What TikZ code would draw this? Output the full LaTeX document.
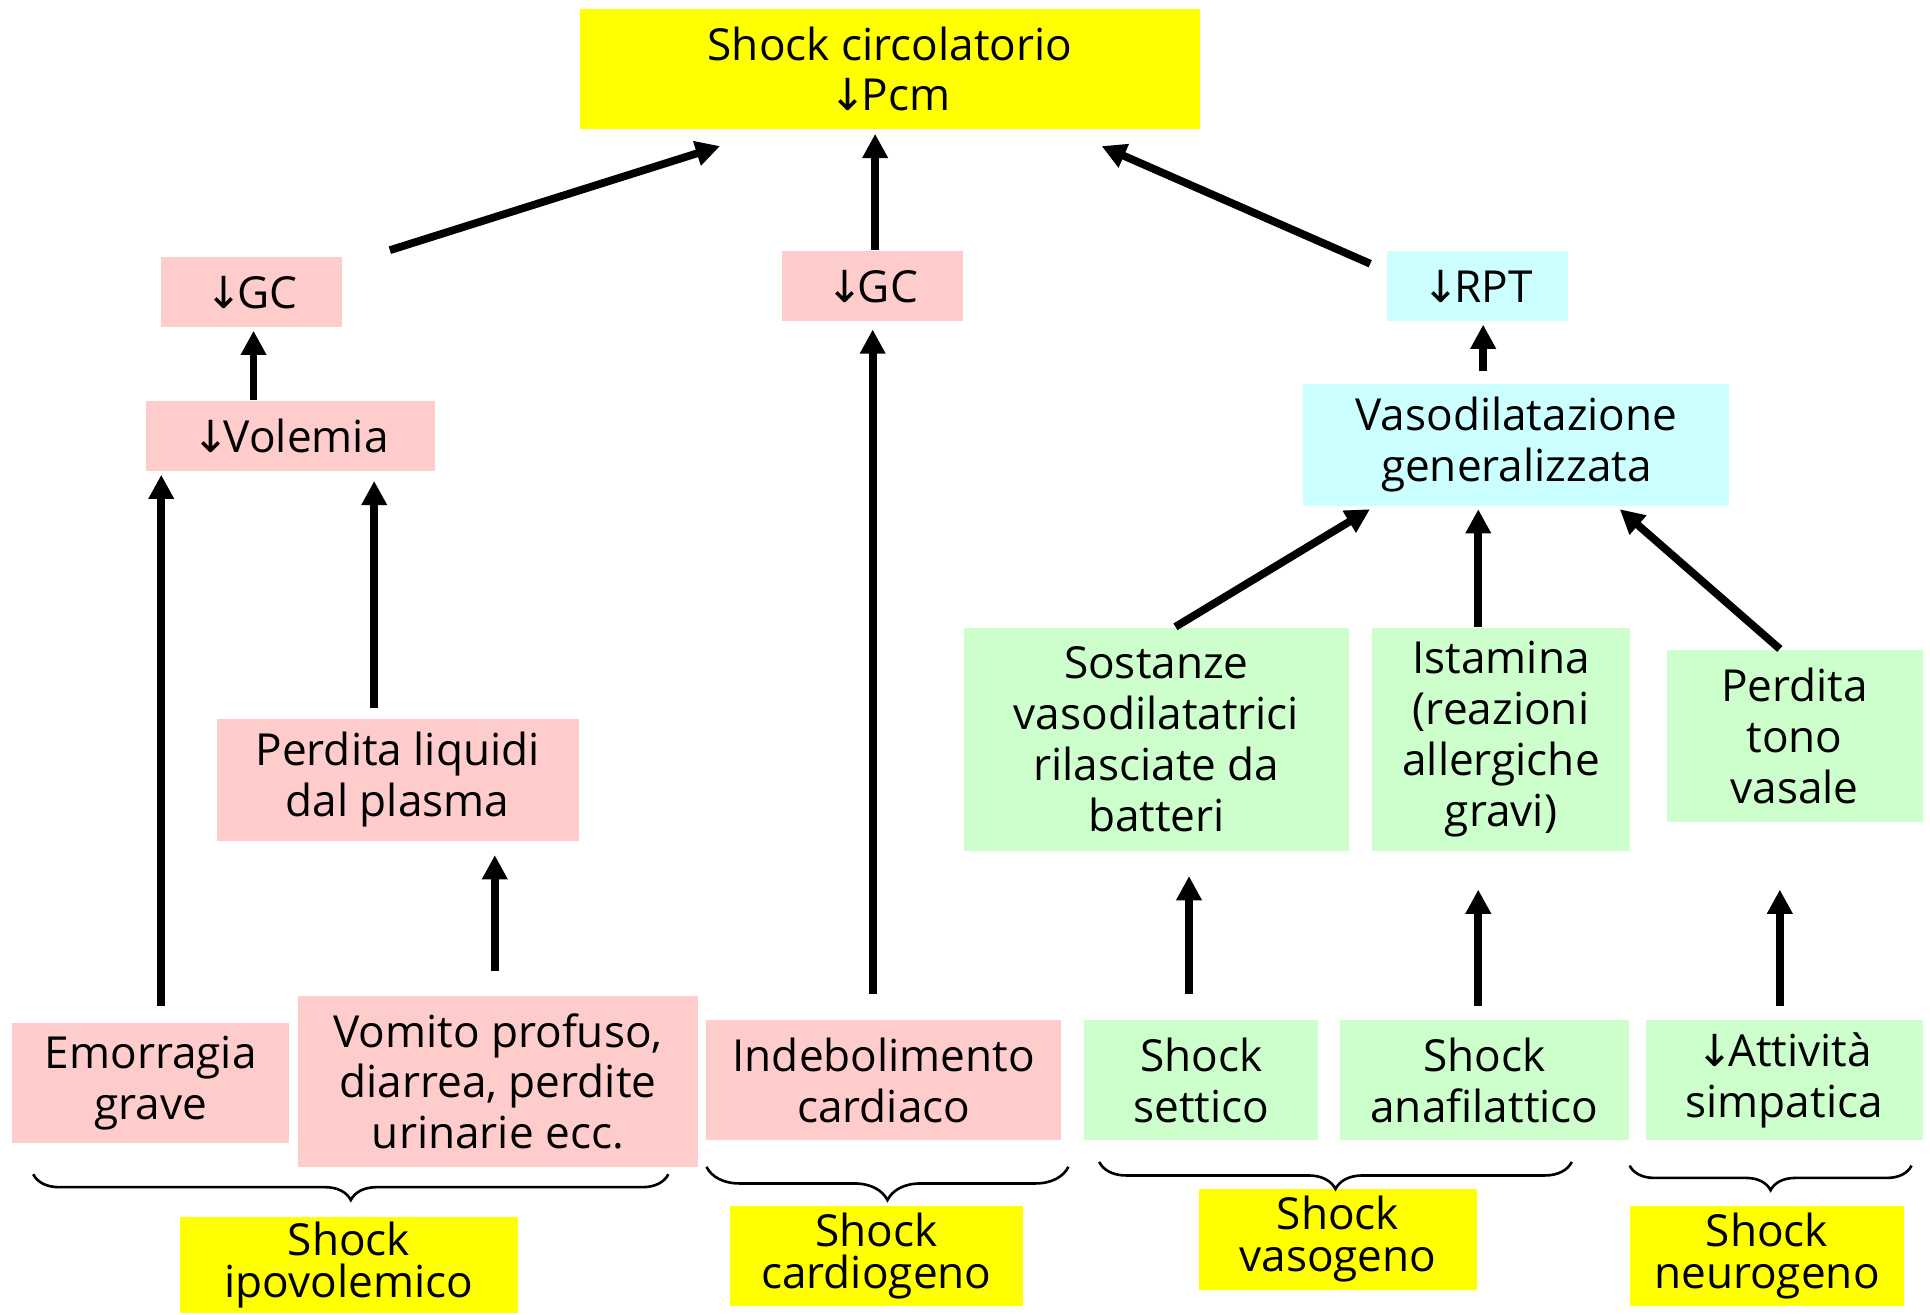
\documentclass[tikz,border=0pt]{standalone}
\usepackage{fontspec}
\setmainfont{Open Sans}
\newfontfamily\arrowfont{DejaVu Sans}
\newcommand{\dn}{{\arrowfont ↓}\kern-0.12em}
\usetikzlibrary{arrows.meta,calc,decorations.pathreplacing}

\definecolor{pinkfill}{HTML}{FFCCCC}
\definecolor{cyanfill}{HTML}{CCFFFF}
\definecolor{greenfill}{HTML}{CCFFCC}
\definecolor{yellowfill}{HTML}{FFFF00}

\begin{document}
\begin{tikzpicture}[x=0.01cm,y=-0.01cm,
  box/.style={rectangle, inner sep=0pt, align=center,
    font=\fontsize{10.2}{11.75}\selectfont},
  pinkbox/.style={box, fill=pinkfill},
  cyanbox/.style={box, fill=cyanfill},
  greenbox/.style={box, fill=greenfill},
  yellowbox/.style={box, fill=yellowfill},
  typebox/.style={box, fill=yellowfill, font=\fontsize{10.2}{9.7}\selectfont},
  arr/.style={line width=1.8pt, -{Triangle[width=5.6pt,length=5.6pt]}},
  grp/.style={line width=0.6pt, decorate,
    decoration={brace, mirror, amplitude=#1}},
]
\useasboundingbox (0,0) rectangle (1568,1068);

% main outcome
\node[yellowbox, minimum width=5.04cm, minimum height=0.98cm] (top) at (723,56)
  {Shock circolatorio\\\dn Pcm};

% intermediate mechanisms
\node[pinkbox, minimum width=1.47cm, minimum height=0.57cm] (gcl) at (204.5,237.5) {\dn GC};
\node[pinkbox, minimum width=1.47cm, minimum height=0.57cm] (gcc) at (708.5,232.5) {\dn GC};
\node[cyanbox, minimum width=1.47cm, minimum height=0.57cm] (rpt) at (1200.5,232.5) {\dn RPT};
\node[pinkbox, minimum width=2.34cm, minimum height=0.57cm] (vol) at (236,354.5) {\dn Volemia};
\node[cyanbox, minimum width=3.46cm, minimum height=0.99cm] (vaso) at (1232,361.5)
  {Vasodilatazione\\generalizzata};
\node[pinkbox, minimum width=2.94cm, minimum height=0.99cm] (perd) at (323,633.5)
  {Perdita liquidi\\dal plasma};
\node[greenbox, minimum width=3.13cm, minimum height=1.81cm] (sost) at (939.5,600.5)
  {Sostanze\\vasodilatatrici\\rilasciate da\\batteri};
\node[greenbox, minimum width=2.09cm, minimum height=1.81cm] (ist) at (1219.5,600.5)
  {Istamina\\(reazioni\\allergiche\\gravi)};
\node[greenbox, minimum width=2.08cm, minimum height=1.40cm] (tono) at (1458,598)
  {Perdita\\tono\\vasale};

% primary causes
\node[pinkbox, minimum width=2.25cm, minimum height=0.98cm] (emo) at (122.5,880)
  {Emorragia\\grave};
\node[pinkbox, minimum width=3.25cm, minimum height=1.39cm] (vom) at (404.5,878.5)
  {Vomito profuso,\\diarrea, perdite\\urinarie ecc.};
\node[pinkbox, minimum width=2.88cm, minimum height=0.97cm] (ind) at (718,877.5)
  {Indebolimento\\cardiaco};
\node[greenbox, minimum width=1.90cm, minimum height=0.97cm] (set) at (976,877.5)
  {Shock\\settico};
\node[greenbox, minimum width=2.34cm, minimum height=0.97cm] (ana) at (1206,877.5)
  {Shock\\anafilattico};
\node[greenbox, minimum width=2.25cm, minimum height=0.97cm] (att) at (1449.5,877.5)
  {\dn Attività\\simpatica};

% shock types
\node[typebox, minimum width=2.75cm, minimum height=0.78cm] (ipo) at (283.5,1028)
  {Shock\\ipovolemico};
\node[typebox, minimum width=2.38cm, minimum height=0.81cm] (car) at (712,1020.5)
  {Shock\\cardiogeno};
\node[typebox, minimum width=2.26cm, minimum height=0.82cm] (vasg) at (1087,1007)
  {Shock\\vasogeno};
\node[typebox, minimum width=2.23cm, minimum height=0.81cm] (neu) at (1435.5,1020.5)
  {Shock\\neurogeno};

% grouping braces
\draw[grp=0.21cm] (27,954) -- (543,954);
\draw[grp=0.27cm] (574,948) -- (868,948);
\draw[grp=0.22cm] (893,944) -- (1277,944);
\draw[grp=0.20cm] (1324,947) -- (1553,947);

% causal arrows
\draw[arr] ($(gcl.north east)+(38,-5)$) -- ($(top.south)+(-138,13)$);
\draw[arr] ($(gcc.north)+(2.5,0)$) -- ($(top.south)+(-12,3)$);
\draw[arr] ($(rpt.north west)+(-13,11)$) -- ($(top.south)+(172,13)$);
\draw[arr] ($(vol.north)+(-30,0)$) -- ($(gcl.south)+(1.5,2)$);
\draw[arr] ($(vaso.north)+(-27,-10)$) -- ($(rpt.south)+(4.5,2)$);
\draw[arr] ($(emo.north)+(8.5,-13)$) -- ($(vol.south)+(-105,2)$);
\draw[arr] ($(perd.north)+(-19,-8)$) -- ($(vol.south)+(68,7)$);
\draw[arr] ($(vom.north)+(-2.5,-19)$) -- ($(perd.south)+(79,11)$);
\draw[arr] ($(ind.north)+(-9,-21)$) -- ($(gcc.south)+(0.5,6)$);
\draw[arr] ($(sost.north)+(15.5,0)$) -- ($(vaso.south)+(-119,2)$);
\draw[arr] ($(ist.north)+(-18.5,0)$) -- ($(vaso.south)+(-31,2)$);
\draw[arr] ($(tono.north)+(-12,0)$) -- ($(vaso.south)+(84,2)$);
\draw[arr] ($(set.north)+(-10,-21)$) -- ($(sost.south)+(26.5,20)$);
\draw[arr] ($(ana.north)+(-5,-11)$) -- ($(ist.south)+(-18.5,31)$);
\draw[arr] ($(att.north)+(-3.5,-11)$) -- ($(tono.south)+(-12,54)$);
\end{tikzpicture}
\end{document}
